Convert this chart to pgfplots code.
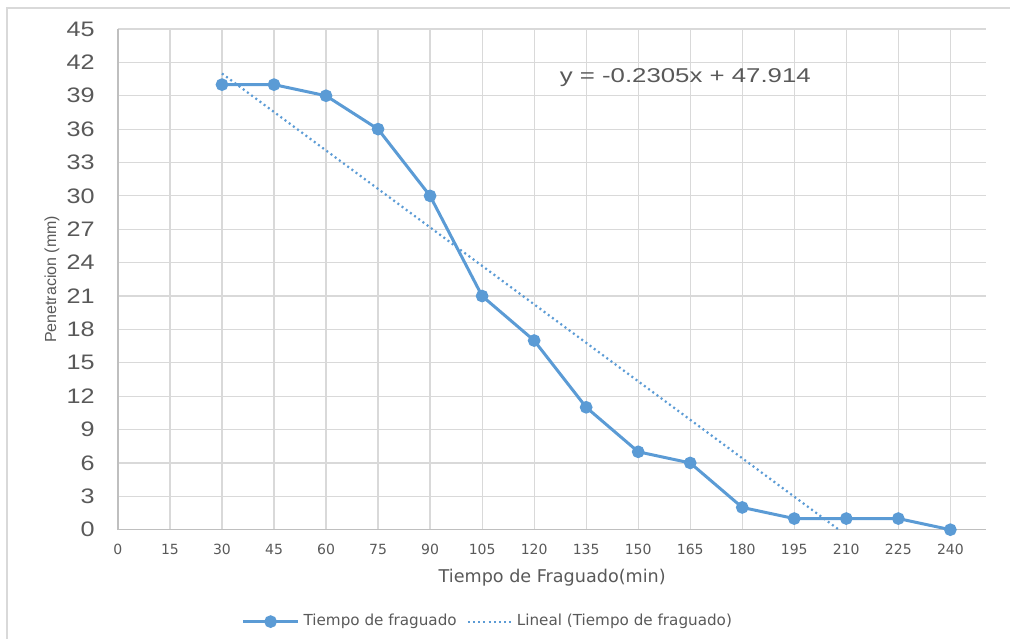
\documentclass[border=0pt]{standalone}
\usepackage{fontspec}
\usepackage{pgfplots}
\pgfplotsset{compat=1.18}
\setmainfont{Liberation Sans}
\newfontfamily\lsans[FakeStretch=1.2]{Liberation Sans}
\newfontfamily\eqsans[FakeStretch=1.29]{Liberation Sans}
\newfontfamily\dsans{DejaVu Sans}
\definecolor{serieblue}{HTML}{5B9BD5}
\definecolor{gridgray}{HTML}{D9D9D9}
\definecolor{axisgray}{HTML}{BFBFBF}
\definecolor{txtgray}{HTML}{595959}

\pgfplotsset{
  markline legend/.style={legend image code/.code={\draw[mark repeat=2,mark phase=2,##1] plot coordinates {(0pt,0pt) (13.75pt,0pt) (27.5pt,0pt)};}},
  trend legend/.style={legend image code/.code={\draw[##1] (0pt,0pt) -- (22pt,0pt);}},
}

\begin{document}
\begin{tikzpicture}
% chart area frame (only the top and left edges are visible)
\path (0,0) rectangle (505.5pt,319.5pt);
\draw[gridgray, line width=0.6pt] (3.5pt,0) -- (3.5pt,315.5pt) -- (505.5pt,315.5pt);

\begin{axis}[
  at={(59pt,54.5pt)}, anchor=south west,
  scale only axis,
  width=434.5pt, height=250.5pt,
  xmin=0, xmax=250.4, ymin=0, ymax=45,
  xtick={0,15,...,240},
  ytick={0,3,...,45},
  major tick length=0pt,
  grid=major,
  major grid style={gridgray, line width=0.6pt},
  axis lines=left,
  axis line style={-, axisgray, line width=0.8pt},
  clip=false,
  /pgf/number format/assume math mode=true,
  yticklabel style={font=\lsans\fontsize{10.5}{12}\selectfont, text=txtgray, inner sep=0pt, xshift=-11.5pt},
  xticklabel style={font=\dsans\fontsize{7}{8}\selectfont, text=txtgray, inner sep=0pt, yshift=-7pt},
  xlabel={Tiempo de Fraguado(min)},
  ylabel={Penetracion (mm)},
  xlabel style={font=\dsans\fontsize{8.8}{10}\selectfont, text=txtgray, at={(axis description cs:0.5,-0.0958)}, anchor=center},
  ylabel style={font=\fontsize{8}{9}\selectfont, text=txtgray, at={(axis description cs:-0.0759,0.5)}, anchor=center},
  legend columns=2,
  legend style={draw=none, fill=none, at={(axis description cs:0.427,-0.1836)}, anchor=center,
    font=\dsans\fontsize{7.6}{9}\selectfont, text=txtgray,
    /tikz/every even column/.append style={column sep=3pt}},
]
\addplot[serieblue, line width=1.5pt, mark=*, mark size=2.4pt,
  mark options={fill=serieblue, draw=serieblue}, markline legend]
  coordinates {
  (30,40) (45,40) (60,39) (75,36) (90,30) (105,21) (120,17) (135,11)
  (150,7) (165,6) (180,2) (195,1) (210,1) (225,1) (240,0)
  };
\addlegendentry{Tiempo de fraguado}

% linear trend y = -0.2305x + 47.914, drawn down to the x axis
\addplot[serieblue, line width=1.1pt, dash pattern=on 1pt off 1.6pt, trend legend]
  coordinates {(30,40.999) (207.87,0)};
\addlegendentry{Lineal (Tiempo de fraguado)}

\node[anchor=west, inner sep=0pt, font=\eqsans\fontsize{10}{12}\selectfont, text=txtgray]
  at (axis cs:127.3,40.6) {y = -0.2305x + 47.914};
\end{axis}
\end{tikzpicture}
\end{document}
